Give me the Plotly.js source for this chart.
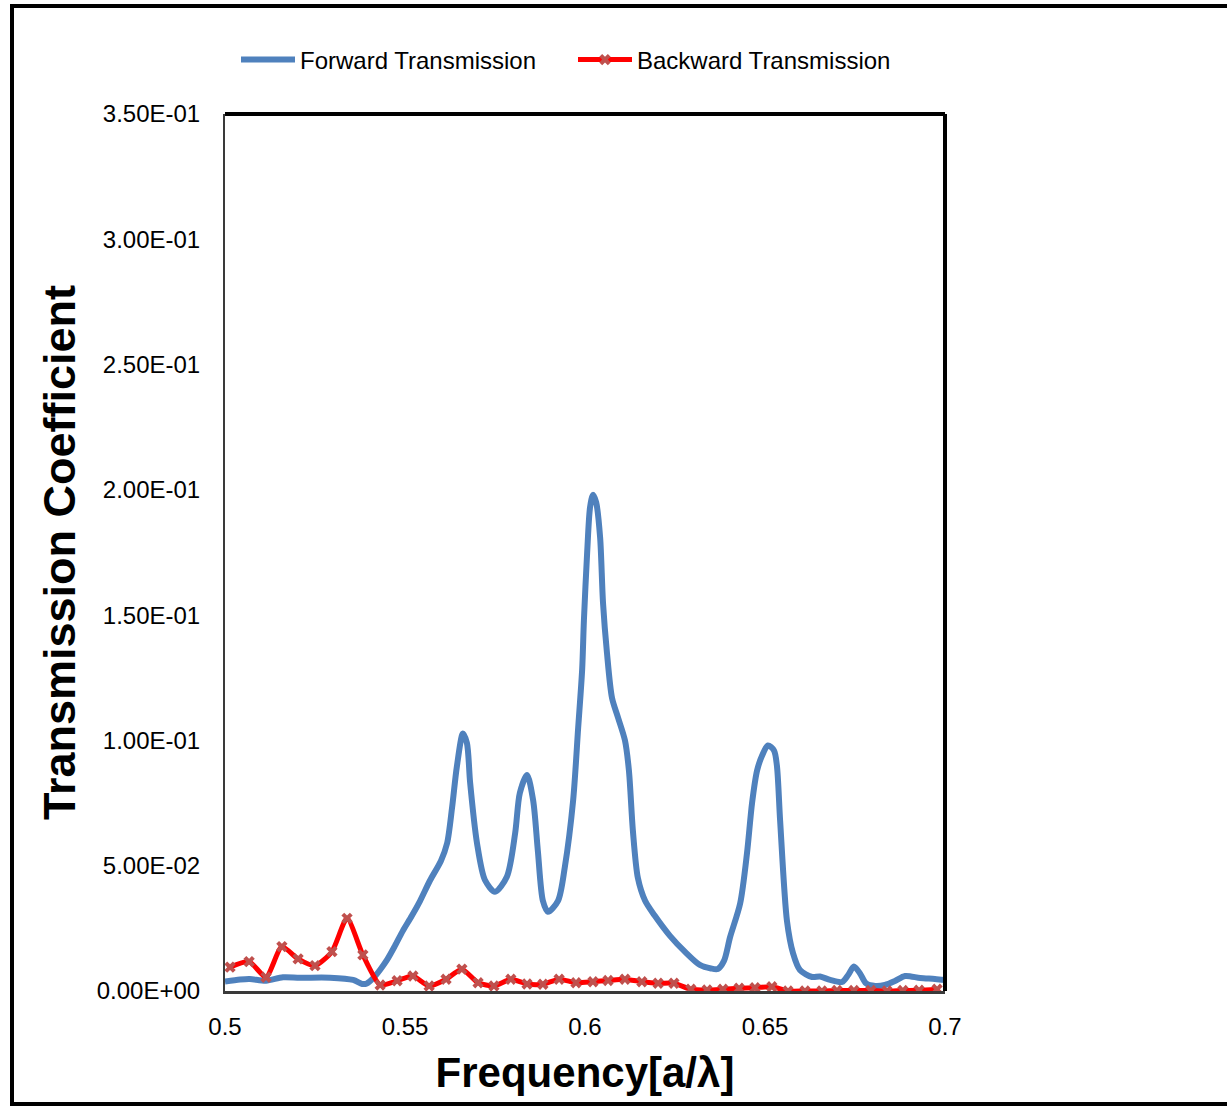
<!DOCTYPE html>
<html>
<head>
<meta charset="utf-8">
<script src="https://cdn.plot.ly/plotly-3.0.1.min.js"></script>
<style>
  html, body { margin: 0; padding: 0; background: #ffffff; }
  #chart { width: 1227px; height: 1106px; }
</style>
</head>
<body>
<div id="chart"></div>
<script>
// Forward transmission spectrum
const forwardFreq = [
  0.5000, 0.5042, 0.5069, 0.5114, 0.5161, 0.5208, 0.5292, 0.5356, 0.5381, 0.5394,
  0.5411, 0.5431, 0.5450, 0.5472, 0.5494, 0.5519, 0.5542, 0.5569, 0.5600, 0.5617,
  0.5631, 0.5644, 0.5661, 0.5672, 0.5681, 0.5700, 0.5722, 0.5750, 0.5783, 0.5806,
  0.5819, 0.5839, 0.5856, 0.5869, 0.5883, 0.5897, 0.5925, 0.5944, 0.5967, 0.5981,
  0.5992, 0.5997, 0.6006, 0.6014, 0.6022, 0.6031, 0.6042, 0.6050, 0.6061, 0.6075,
  0.6092, 0.6111, 0.6122, 0.6133, 0.6147, 0.6167, 0.6194, 0.6236, 0.6278, 0.6319,
  0.6350, 0.6369, 0.6386, 0.6403, 0.6431, 0.6450, 0.6464, 0.6478, 0.6492, 0.6508,
  0.6525, 0.6533, 0.6542, 0.6561, 0.6578, 0.6597, 0.6631, 0.6653, 0.6681, 0.6714,
  0.6731, 0.6747, 0.6764, 0.6781, 0.6806, 0.6833, 0.6861, 0.6889, 0.6931, 0.6972,
  0.7000
];
const forwardT = [
  0.0038, 0.0046, 0.0048, 0.0041, 0.0055, 0.0053, 0.0053, 0.0044, 0.0028, 0.0030,
  0.0050, 0.0085, 0.0124, 0.0180, 0.0240, 0.0300, 0.0360, 0.0440, 0.0520, 0.0590,
  0.0735, 0.0895, 0.1028, 0.0990, 0.0830, 0.0590, 0.0443, 0.0396, 0.0456, 0.0630,
  0.0790, 0.0862, 0.0760, 0.0560, 0.0360, 0.0316, 0.0360, 0.0495, 0.0760, 0.1050,
  0.1280, 0.1480, 0.1750, 0.1930, 0.1980, 0.1950, 0.1810, 0.1550, 0.1350, 0.1170,
  0.1090, 0.1000, 0.0880, 0.0640, 0.0450, 0.0360, 0.0300, 0.0220, 0.0156, 0.0104,
  0.0090, 0.0088, 0.0120, 0.0215, 0.0350, 0.0550, 0.0750, 0.0880, 0.0940, 0.0980,
  0.0960, 0.0900, 0.0680, 0.0280, 0.0150, 0.0084, 0.0056, 0.0058, 0.0044, 0.0036,
  0.0064, 0.0098, 0.0070, 0.0030, 0.0020, 0.0024, 0.0040, 0.0060, 0.0052, 0.0048,
  0.0044
];

// Backward transmission spectrum (sampled points)
const backwardFreq = [
  0.5014, 0.5067, 0.5114, 0.5158, 0.5203, 0.5250, 0.5297, 0.5339, 0.5383, 0.5431,
  0.5478, 0.5522, 0.5567, 0.5614, 0.5658, 0.5703, 0.5747, 0.5794, 0.5839, 0.5883,
  0.5928, 0.5975, 0.6022, 0.6064, 0.6111, 0.6158, 0.6203, 0.6247, 0.6294, 0.6339,
  0.6383, 0.6428, 0.6472, 0.6519, 0.6564, 0.6611, 0.6658, 0.6700, 0.6747, 0.6794,
  0.6839, 0.6883, 0.6928, 0.6978
];
const backwardT = [
  0.0095, 0.0117, 0.0055, 0.0177, 0.0128, 0.0101, 0.0157, 0.0290, 0.0144, 0.0024,
  0.0041, 0.0060, 0.0020, 0.0047, 0.0087, 0.0033, 0.0020, 0.0047, 0.0028, 0.0027,
  0.0047, 0.0033, 0.0037, 0.0042, 0.0047, 0.0037, 0.0031, 0.0031, 0.0007, 0.0004,
  0.0007, 0.0011, 0.0013, 0.0017, 0.0000, 0.0000, 0.0000, 0.0002, 0.0002, 0.0002,
  0.0000, 0.0002, 0.0003, 0.0007
];

// Axis tick labels
const yTickVals = [0, 0.05, 0.10, 0.15, 0.20, 0.25, 0.30, 0.35];
const yTickText = ['0.00E+00', '5.00E-02', '1.00E-01', '1.50E-01', '2.00E-01', '2.50E-01', '3.00E-01', '3.50E-01'];
const xTickVals = [0.5, 0.55, 0.6, 0.65, 0.7];
const xTickText = ['0.5', '0.55', '0.6', '0.65', '0.7'];

const FONT = '"Liberation Sans", Arial, sans-serif';

const traces = [
  {
    name: 'Forward Transmission',
    x: forwardFreq,
    y: forwardT,
    type: 'scatter',
    mode: 'lines',
    line: { color: '#4F81BD', width: 6, shape: 'spline', smoothing: 0.8 }
  },
  {
    name: 'Backward Transmission',
    x: backwardFreq,
    y: backwardT,
    type: 'scatter',
    mode: 'lines+markers',
    line: { color: '#FF0000', width: 5, shape: 'spline', smoothing: 0.6 },
    marker: { symbol: 'x', size: 10, color: '#C0504D' }
  }
];

// plot area: x 225..945 px, y 114..991 px
const L = 225, R = 1227 - 945, T = 114, B = 1106 - 991;
const PW = 1227 - L - R, PH = 1106 - T - B;
const px = v => (v - L) / PW;
const py = v => (1106 - B - v) / PH;

const layout = {
  width: 1227,
  height: 1106,
  margin: { l: L, r: R, t: T, b: B, pad: 0 },
  paper_bgcolor: '#ffffff',
  plot_bgcolor: '#ffffff',
  font: { family: FONT, color: '#000000', size: 24 },
  showlegend: true,
  legend: {
    orientation: 'h',
    x: px(236), xanchor: 'left',
    y: py(60), yanchor: 'middle',
    font: { family: FONT, size: 24, color: '#000000' },
    bgcolor: 'rgba(0,0,0,0)',
    itemwidth: 54,
    entrywidth: 268,
    tracegroupgap: 0
  },
  xaxis: {
    range: [0.5, 0.7],
    tickvals: xTickVals,
    ticktext: xTickText,
    ticks: '',
    ticklabelstandoff: 12,
    showgrid: false,
    zeroline: false,
    showline: true,
    linecolor: '#3a3a3a',
    linewidth: 3,
    tickfont: { family: FONT, size: 24 },
    title: {
      text: 'Frequency[a/λ]',
      font: { family: FONT, size: 42, weight: 'bold' },
      standoff: 19
    }
  },
  yaxis: {
    range: [0, 0.35],
    tickvals: yTickVals,
    ticktext: yTickText,
    ticks: '',
    ticklabelstandoff: 18,
    showgrid: false,
    zeroline: false,
    showline: true,
    linecolor: '#3a3a3a',
    linewidth: 2,
    tickfont: { family: FONT, size: 24 },
    title: {
      text: 'Transmission Coefficient',
      font: { family: FONT, size: 45, weight: 'bold' },
      standoff: 7
    }
  },
  shapes: [
    // heavy top and right edges of the plotting frame
    { type: 'line', xref: 'paper', yref: 'paper', x0: 0, x1: 1, y0: 1, y1: 1,
      line: { color: '#000000', width: 4 } },
    { type: 'line', xref: 'paper', yref: 'paper', x0: 1, x1: 1, y0: 0, y1: 1,
      line: { color: '#000000', width: 4 } },
    // outer chart border
    { type: 'rect', xref: 'paper', yref: 'paper',
      x0: px(12), x1: px(1260), y0: py(1104), y1: py(6),
      line: { color: '#000000', width: 4 }, fillcolor: 'rgba(0,0,0,0)' }
  ]
};

Plotly.newPlot('chart', traces, layout, { displayModeBar: false, staticPlot: true });
</script>
</body>
</html>
